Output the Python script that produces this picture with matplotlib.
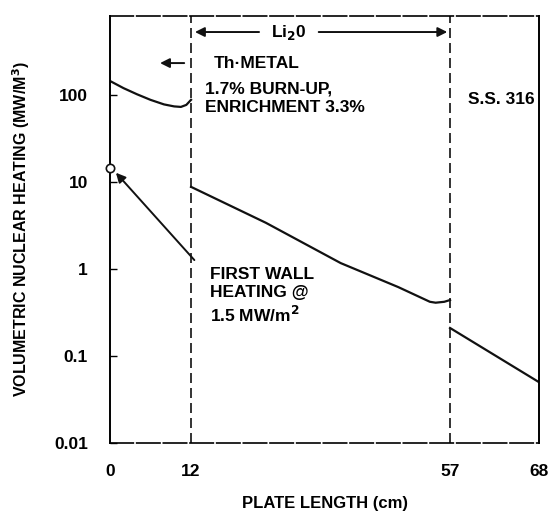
import numpy as np
import matplotlib.pyplot as plt

# ---------------------------------------------------------------------------
# data
# ---------------------------------------------------------------------------
zone_edges = [0, 12, 57, 68]           # cm, region boundaries
zone_px = [0, 81, 340, 429]            # relative drawn widths of the zones (non-linear axis)

th_x = [0, 2, 4, 6, 8, 9.5, 10.5, 11.3, 12]
th_y = [145, 120, 102, 88, 78, 74, 73, 77, 88]

li_x = [12, 25, 38, 48, 53.5, 54.5, 56, 57]
li_y = [8.8, 3.4, 1.17, 0.62, 0.42, 0.41, 0.42, 0.44]

ss_x = [57, 68]
ss_y = [0.21, 0.05]

fw_x = [0]
fw_y = [14.5]

yticks = [0.01, 0.1, 1, 10, 100]
ytick_labels = ['0.01', '0.1', '1', '10', '100']

plt.rcParams['font.family'] = ['Liberation Sans', 'DejaVu Sans']
plt.rcParams['font.weight'] = 'bold'
plt.rcParams['axes.labelweight'] = 'bold'
plt.rcParams['mathtext.default'] = 'bf'


def fwd(x):
    return np.interp(x, zone_edges, zone_px)


def inv(x):
    return np.interp(x, zone_px, zone_edges)


fig = plt.figure(figsize=(5.54, 5.21), dpi=100)
ax = fig.add_axes([0.1986, 0.1497, 0.7744, 0.8196])

ax.set_xscale('function', functions=(fwd, inv))
ax.set_yscale('log')
ax.set_xlim(0, 68)
ax.set_ylim(0.01, 810)

lc = '#111111'
ax.plot(th_x, th_y, color=lc, lw=1.6)
ax.plot(li_x, li_y, color=lc, lw=1.6)
ax.plot(ss_x, ss_y, color=lc, lw=1.6)
ax.plot(fw_x, fw_y, 'o', mfc='white', mec=lc, ms=6, mew=1.2, clip_on=False, zorder=5)

# region boundaries
for xb in zone_edges[1:3]:
    ax.axvline(xb, color=lc, lw=1.2, ls=(0, (6, 3)))

# spines
for s in ['left', 'right']:
    ax.spines[s].set_linewidth(1.4)
for s in ['top', 'bottom']:
    ax.spines[s].set_linewidth(1.2)
    ax.spines[s].set_linestyle((0, (14, 2)))

fs = 12.5
ax.set_xticks(zone_edges)
ax.set_xticklabels([str(v) for v in zone_edges])
ax.tick_params(axis='x', length=0, pad=15, labelsize=fs)
ax.set_yticks(yticks)
ax.set_yticklabels(ytick_labels)
ax.yaxis.set_minor_locator(plt.NullLocator())
ax.tick_params(axis='y', direction='in', length=5, width=1, pad=16, labelsize=fs)

ax.set_xlabel('PLATE LENGTH (cm)', fontsize=12, labelpad=12)
ax.set_ylabel('VOLUMETRIC NUCLEAR HEATING (MW/M$^3$)', fontsize=11.5, labelpad=16)

# Li2O zone arrows
arr = dict(arrowstyle='-|>', color=lc, lw=1.4, mutation_scale=14)
ax.annotate('', xy=(12.2, 530), xytext=(24.3, 530), arrowprops=arr)
ax.annotate('', xy=(57, 530), xytext=(33.7, 530), arrowprops=arr)
ax.text(28.9, 530, 'Li$_2$0', ha='center', va='center', fontsize=fs)

# Th-metal label
ax.annotate('', xy=(7.0, 233), xytext=(11.4, 233), arrowprops=arr)
ax.text(16.0, 233, 'Th·METAL', ha='left', va='center', fontsize=fs)
ax.text(14.4, 92, '1.7% BURN-UP,\nENRICHMENT 3.3%', ha='left', va='center',
        fontsize=fs, linespacing=1.3)

ax.text(59.2, 88, 'S.S. 316', ha='left', va='center', fontsize=fs)

# first wall annotation
ax.annotate('', xy=(0.6, 13.5), xytext=(12.9, 1.2), arrowprops=arr)
ax.text(15.3, 0.49, 'FIRST WALL\nHEATING @\n1.5 MW/m$^2$', ha='left', va='center',
        fontsize=fs, linespacing=1.3)

plt.savefig('out.png', dpi=100)
